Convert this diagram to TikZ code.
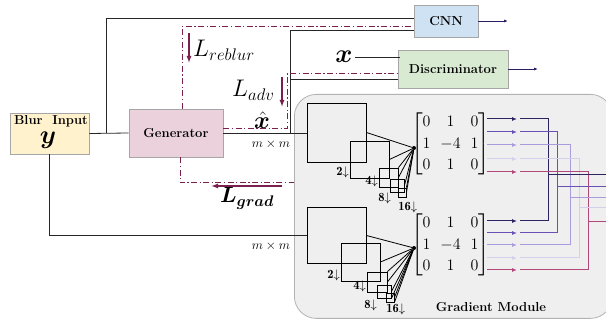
\RequirePackage{fix-cm}
\documentclass[tikz,border=0pt]{standalone}
\usepackage{amsmath,bm}
\usepackage{fontspec}
\usetikzlibrary{arrows.meta,calc}
\definecolor{lossc}{RGB}{123,31,79}
\definecolor{cA}{RGB}{45,35,95}
\definecolor{cB}{RGB}{105,80,180}
\definecolor{cC}{RGB}{170,155,220}
\definecolor{cD}{RGB}{212,207,236}
\definecolor{cE}{RGB}{178,72,122}
\definecolor{blurfill}{RGB}{255,242,204}
\definecolor{genfill}{RGB}{234,209,220}
\definecolor{cnnfill}{RGB}{207,226,243}
\definecolor{discfill}{RGB}{217,234,211}
\definecolor{gmfill}{RGB}{239,239,239}
\definecolor{outc}{RGB}{40,30,100}
\begin{document}
\begin{tikzpicture}[x=1pt,y=-1pt,
  box/.style={draw=gray!70,line width=0.8pt,inner sep=0pt,font=\fontsize{13}{15}\selectfont\bfseries},
  lbl/.style={font=\fontsize{13}{15}\selectfont\bfseries,inner sep=0pt},
  wire/.style={line width=0.8pt,draw=black!85},
  loss/.style={draw=lossc,line width=1pt,dash pattern=on 6pt off 2.5pt on 1.2pt off 2.5pt},
  lossarr/.style={draw=lossc,line width=1.3pt,-{Latex[length=7pt,width=5pt]}},
  outarr/.style={draw=outc,line width=0.8pt,-{Latex[length=4pt,width=3pt]}},
  sq/.style={draw=black,line width=0.9pt,inner sep=0pt},
  conv/.style={line width=0.8pt,draw=black},
  dl/.style={font=\fontsize{12.5}{14}\selectfont,inner sep=0.5pt},
  mm/.style={font=\fontsize{13}{15}\selectfont,inner sep=0pt},
  big/.style={font=\fontsize{24}{28}\selectfont,inner sep=0pt},
  mat/.style={font=\fontsize{16}{19}\selectfont,inner sep=0pt},
  marr/.style={line width=1pt,-{Latex[length=5pt,width=4pt]}},
  route/.style={line width=1pt},
  dot/.style={circle,fill=black,inner sep=0pt,minimum size=4pt}]
\useasboundingbox (0,0) rectangle (606,320);
\clip (0,0) rectangle (606,320);

% gradient module background
\node[draw=gray!60,fill=gmfill,line width=0.8pt,rounded corners=22pt,minimum width=318pt,minimum height=224pt,anchor=north west,inner sep=0pt] (gm) at (294,94) {};
\node[lbl] (gmtxt) at (491,307) {Gradient Module};

% main boxes
\node[box,fill=blurfill,minimum width=79pt,minimum height=41pt] (blur) at (49.5,133.5) {};
\node[lbl,anchor=base] (blurtxt) at (51,125) {Blur\ \ Input};
\node[anchor=base,font=\fontsize{26}{30}\selectfont,inner sep=0pt] (ysym) at (48,143.5) {$\bm{y}$};
\node[box,fill=genfill,minimum width=94pt,minimum height=48pt] (gen) at (176,133) {Generator};
\node[box,fill=cnnfill,minimum width=64pt,minimum height=32pt] (cnn) at (446,21) {CNN};
\node[box,fill=discfill,minimum width=110pt,minimum height=38pt] (disc) at (453,69) {Discriminator};
\node[anchor=base,font=\fontsize{26}{30}\selectfont,inner sep=0pt] (xlab) at (344,63) {$\bm{x}$};
\node[anchor=base,font=\fontsize{24}{28}\selectfont,inner sep=0pt] (xhat) at (262,129) {$\hat{\bm{x}}$};
\node[mm] (mm1) at (271,144) {$m\times m$};
\node[mm] (mm2) at (271,246) {$m\times m$};

% outputs
\coordinate (cnnout) at (508,21);
\coordinate (discout) at (538,69);
\draw[outarr] (cnn.east) -- (cnnout);
\draw[outarr] (disc.east) -- (discout);

% pyramids (top)
\node[sq,minimum width=59pt,minimum height=59pt] (a1) at (336.5,132.5) {};
\node[sq,minimum width=39pt,minimum height=37pt] (a2) at (369.5,159.5) {};
\node[sq,minimum width=19pt,minimum height=19pt] (a3) at (388.5,177.5) {};
\node[sq,minimum width=14pt,minimum height=13pt] (a4) at (397,185.5) {};
\node[sq,minimum width=8pt,minimum height=9pt] (a5) at (402,192.5) {};
\node[dot] (p1) at (414,148) {};
\foreach \s/\a in {a1/east,a2/east,a3/east,a3/north east,a4/east,a5/north east,a5/east}
  \draw[conv] (\s.\a) -- (p1);
\node[dl,anchor=south east] at (a2.south west) {$\mathbf{2}{\downarrow}$};
\node[dl,anchor=south east] at (a3.south west) {$\mathbf{4}{\downarrow}$};
\node[dl,anchor=north east] at ([xshift=2pt]a4.south west) {$\mathbf{8}{\downarrow}$};
\node[dl,anchor=north west] at ([yshift=-4pt]a5.south west) {$\mathbf{16}{\downarrow}$};

% pyramids (bottom)
\node[sq,minimum width=59pt,minimum height=56pt] (b1) at (336.5,235.5) {};
\node[sq,minimum width=39pt,minimum height=38pt] (b2) at (360.5,262) {};
\node[sq,minimum width=20pt,minimum height=20pt] (b3) at (377,282) {};
\node[sq,minimum width=14pt,minimum height=13pt] (b4) at (384,291.5) {};
\node[sq,minimum width=8pt,minimum height=9pt] (b5) at (390,297.5) {};
\node[dot] (p2) at (414,248) {};
\foreach \s/\a in {b1/east,b2/east,b3/east,b3/north east,b4/east,b4/south east,b5/east,b5/south east}
  \draw[conv] (\s.\a) -- (p2);
\node[dl,anchor=south east] at (b2.south west) {$\mathbf{2}{\downarrow}$};
\node[dl,anchor=south east] at (b3.south west) {$\mathbf{4}{\downarrow}$};
\node[dl,anchor=north east] at ([xshift=1pt,yshift=-1pt]b4.south west) {$\mathbf{8}{\downarrow}$};
\node[dl,anchor=north west] at ([yshift=-1pt]b5.south west) {$\mathbf{16}{\downarrow}$};

% matrices
\node[mat] (m1) at (450.5,144) {$\renewcommand{\arraystretch}{1.12}\begin{bmatrix}0&1&0\\1&-4&1\\0&1&0\end{bmatrix}$};
\node[mat] (m2) at (450.5,245) {$\renewcommand{\arraystretch}{1.12}\begin{bmatrix}0&1&0\\1&-4&1\\0&1&0\end{bmatrix}$};

% matrix arrows and routing
\foreach \yt/\yb/\c in {119/221/cA,132/233/cB,145/245/cC,159/258/cD,172/270/cE}{
  \draw[marr,\c] (487,\yt) -- (517,\yt);
  \draw[marr,\c] (487,\yb) -- (517,\yb);
}
\foreach \yt/\yb/\xv/\yr/\c in {119/221/548/175/cA,132/233/557/187/cB,145/245/570/198/cC,159/258/579/208/cD,172/270/588/222/cE}{
  \draw[route,\c] (520,\yt) -| (\xv,\yb) -- (520,\yb);
}
\foreach \yr/\xv/\c in {175/548/cA,187/557/cB,198/570/cC,208/579/cD,222/588/cE}{
  \draw[route,\c] (\xv,\yr) -- (615,\yr);
}

% wires
\coordinate (j1) at (106,133);
\coordinate (j2) at (290,133);
\draw[wire] (blur.east) -- (gen.west);
\draw[wire] (j1) |- ([yshift=3pt]cnn.west);
\draw[wire] (gen.east) -- (gen.east -| a1.west);
\draw[wire] (j2) |- ([yshift=-9pt]cnn.west);
\draw[wire] (j2) |- ([yshift=-10pt]disc.west);
\draw[wire] ([xshift=2pt]xlab.east) -- ([xshift=2pt]xlab.east -| disc.west);
\draw[wire] (blur.south) |- (b1.west);

% losses
\coordinate (adv1) at (287,129);
\coordinate (g1) at (294,183);
\draw[loss] ([xshift=6pt]gen.north) |- ([yshift=-6pt]cnn.west);
\draw[loss] ([yshift=4pt]gen.east) -- (adv1) |- ([yshift=-5pt]disc.west);
\draw[loss] ([xshift=4pt]gen.south) |- (g1);

\coordinate (r1) at (189,33); \coordinate (r2) at (189,63);
\coordinate (v1) at (282,77); \coordinate (v2) at (282,107);
\coordinate (g2) at (282,186); \coordinate (g3) at (211,186);
\draw[lossarr] (r1) -- (r2);
\draw[lossarr] (v1) -- (v2);
\draw[lossarr] (g2) -- (g3);
\node[big,anchor=base west] (lreblur) at (193,57) {$L_{reblur}$};
\node[big,anchor=base west] (ladv) at (232,97) {$L_{adv}$};
\node[font=\fontsize{22}{26}\selectfont,inner sep=0pt,anchor=base west] (lgrad) at (220,203) {$\bm{L_{grad}}$};
\end{tikzpicture}
\end{document}
